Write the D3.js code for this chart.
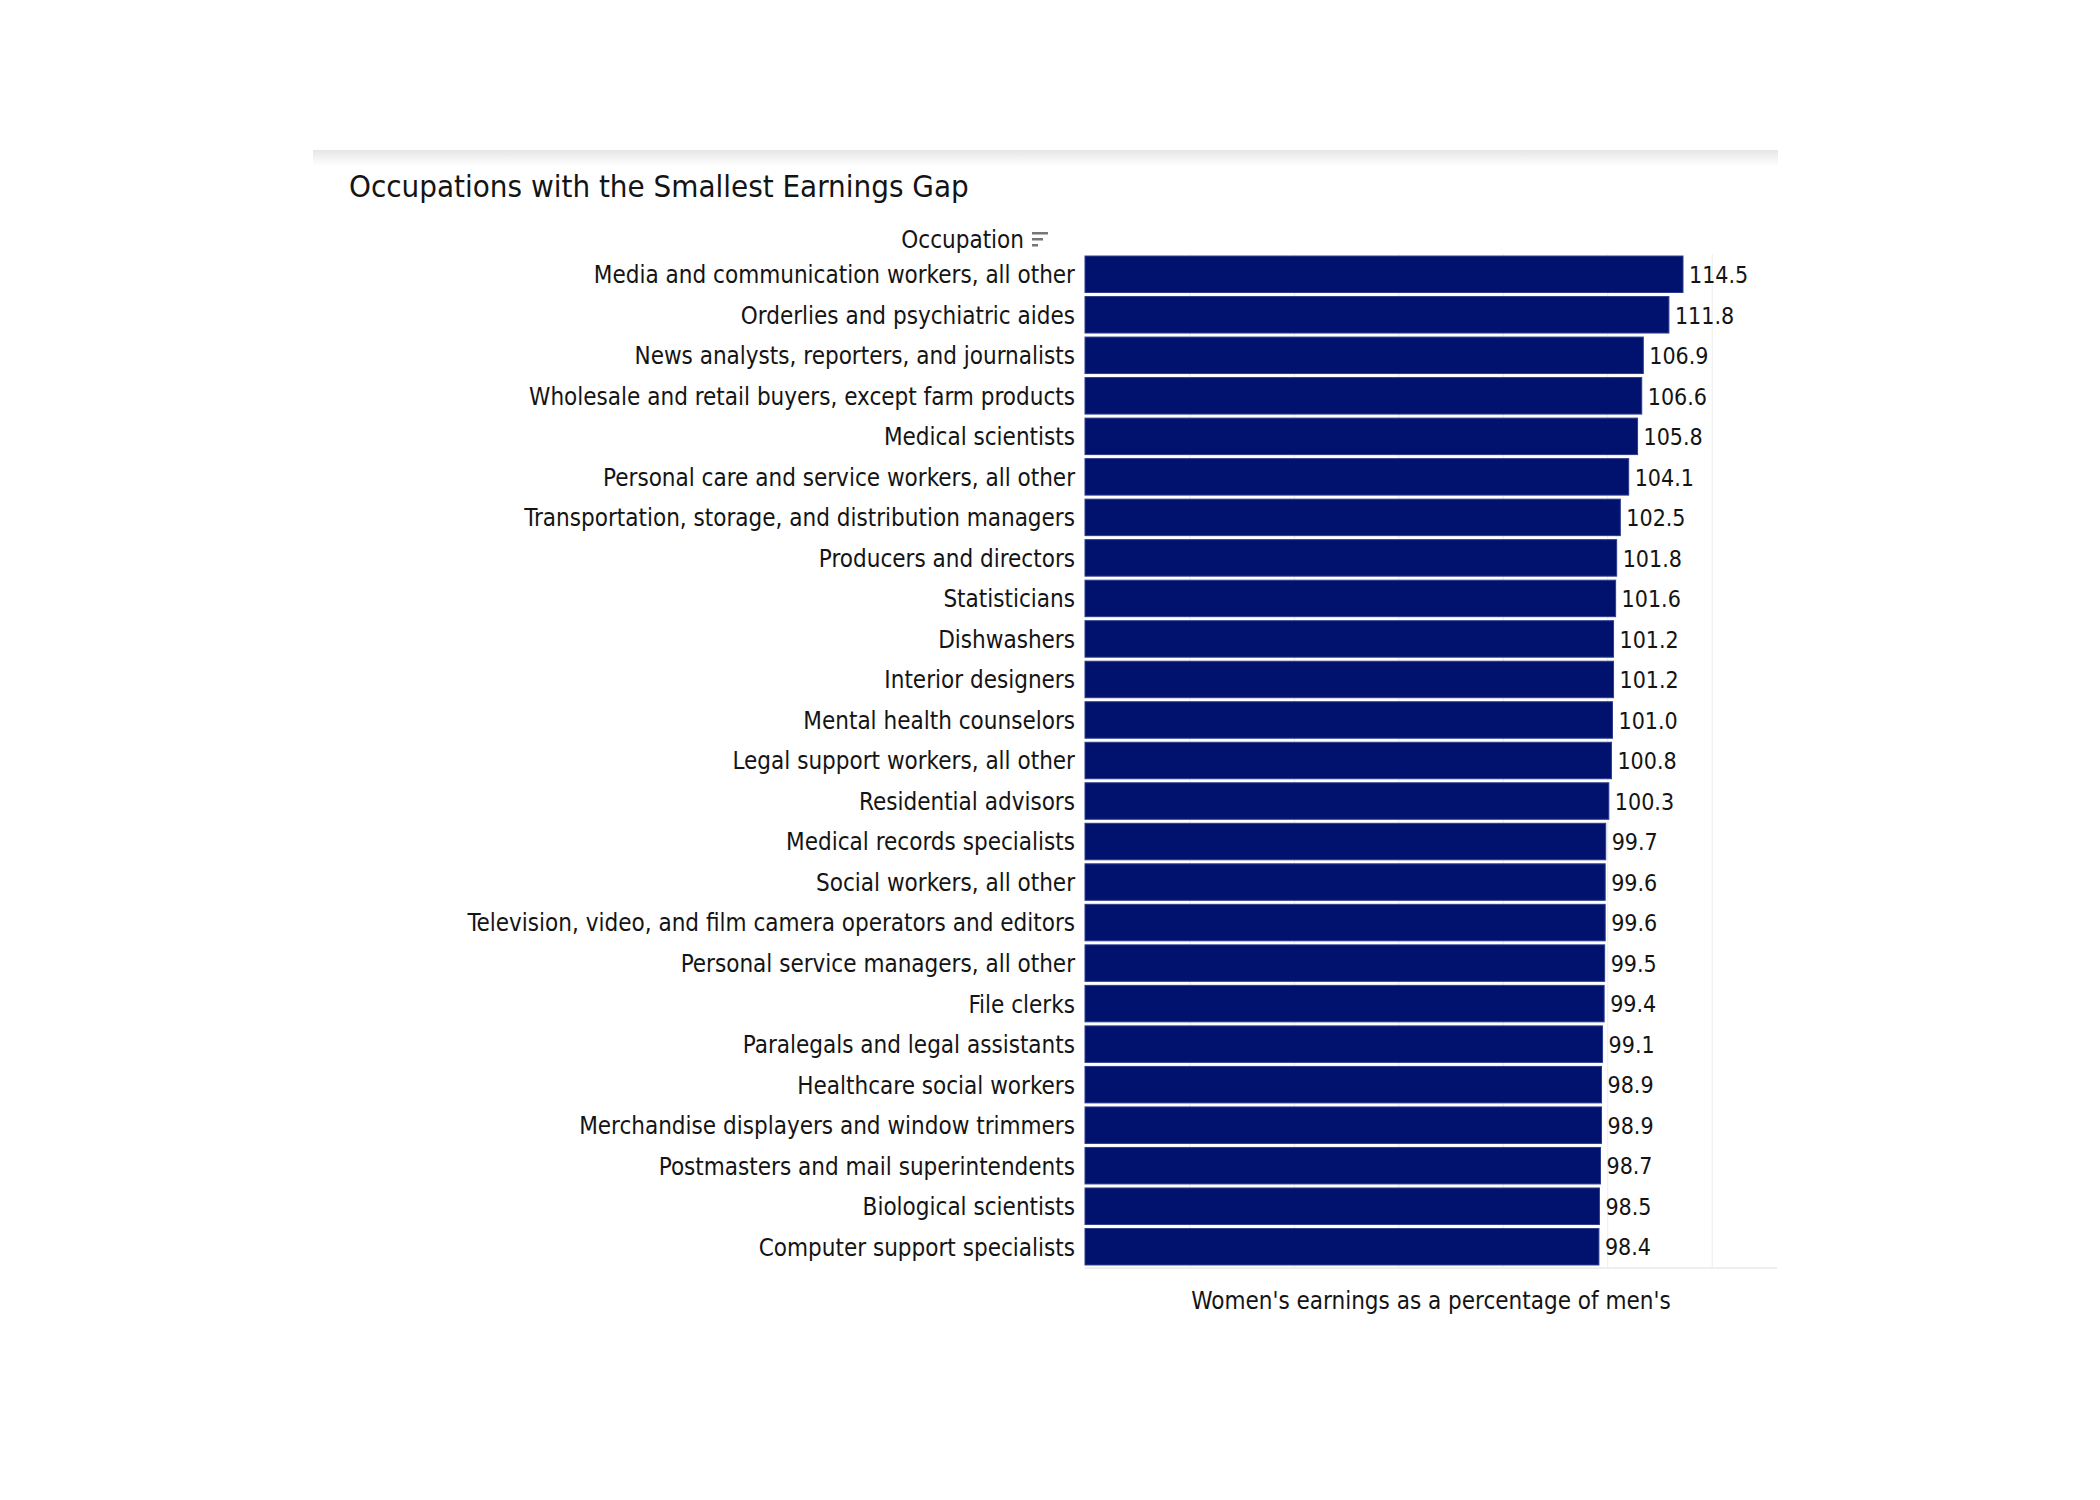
<!DOCTYPE html>
<html>
<head>
<meta charset="utf-8">
<script src="https://cdn.jsdelivr.net/npm/d3@7"></script>
<style>
  body { margin: 0; background: #fff; }
  svg text { font-family: "DejaVu Sans Condensed", "DejaVu Sans", sans-serif; fill: #141414; }
</style>
</head>
<body>
<svg width="2100" height="1500"></svg>
<script>
// categories, top to bottom
const occupations = [
  "Media and communication workers, all other",
  "Orderlies and psychiatric aides",
  "News analysts, reporters, and journalists",
  "Wholesale and retail buyers, except farm products",
  "Medical scientists",
  "Personal care and service workers, all other",
  "Transportation, storage, and distribution managers",
  "Producers and directors",
  "Statisticians",
  "Dishwashers",
  "Interior designers",
  "Mental health counselors",
  "Legal support workers, all other",
  "Residential advisors",
  "Medical records specialists",
  "Social workers, all other",
  "Television, video, and film camera operators and editors",
  "Personal service managers, all other",
  "File clerks",
  "Paralegals and legal assistants",
  "Healthcare social workers",
  "Merchandise displayers and window trimmers",
  "Postmasters and mail superintendents",
  "Biological scientists",
  "Computer support specialists"
];

// women's earnings as % of men's
const earningsPct = [
  114.5, 111.8, 106.9, 106.6, 105.8, 104.1, 102.5, 101.8, 101.6, 101.2,
  101.2, 101.0, 100.8, 100.3, 99.7, 99.6, 99.6, 99.5, 99.4, 99.1,
  98.9, 98.9, 98.7, 98.5, 98.4
];

const gridTicks = [20, 40, 60, 80, 100, 120];

const chartTitle = "Occupations with the Smallest Earnings Gap";
const rowHeader = "Occupation";
const xTitle = "Women's earnings as a percentage of men's";

const rows = occupations.map((name, i) => ({ name: name, value: earningsPct[i] }));

const svg = d3.select("svg");

const plotLeft = 1085, plotRight = 1777, plotTop = 254, plotBottom = 1267;

const x = d3.scaleLinear().domain([0, 132.5]).range([plotLeft, plotRight]);
const y = d3.scaleBand().domain(occupations).range([plotTop, plotBottom])
  .paddingInner(0.1).paddingOuter(0.05);

// soft top border of the card
const grad = svg.append("defs").append("linearGradient")
  .attr("id", "shadow").attr("x1", 0).attr("x2", 0).attr("y1", 0).attr("y2", 1);
grad.append("stop").attr("offset", "0%").attr("stop-color", "#e6e6e6");
grad.append("stop").attr("offset", "100%").attr("stop-color", "#ffffff");
svg.append("rect")
  .attr("x", 313).attr("y", 150).attr("width", 1778 - 313).attr("height", 16)
  .attr("fill", "url(#shadow)");

// title
svg.append("text")
  .attr("x", 349).attr("y", 197)
  .style("font-size", "31px")
  .text(chartTitle);

// vertical gridlines (no tick labels)
svg.append("g")
  .attr("transform", `translate(0,${plotBottom})`)
  .call(d3.axisBottom(x).tickValues(gridTicks).tickSize(-(plotBottom - plotTop)).tickFormat(""))
  .call(g => g.select(".domain").remove())
  .call(g => g.selectAll(".tick line").attr("stroke", "#ededed"));

// bottom line of the plot
svg.append("line")
  .attr("x1", plotLeft).attr("x2", plotRight).attr("y1", plotBottom + 1).attr("y2", plotBottom + 1)
  .attr("stroke", "#eeeeee").attr("stroke-width", 2);

// bars
svg.append("g").selectAll("rect")
  .data(rows)
  .join("rect")
  .attr("x", x(0))
  .attr("y", d => y(d.name))
  .attr("width", d => x(d.value) - x(0))
  .attr("height", y.bandwidth())
  .attr("fill", "#00126e")
  .attr("stroke", "#2c3b8c")
  .attr("stroke-width", 1);

// value labels
svg.append("g").selectAll("text")
  .data(rows)
  .join("text")
  .attr("x", d => x(d.value) + 6)
  .attr("y", d => y(d.name) + y.bandwidth() / 2)
  .attr("dy", "0.38em")
  .style("font-size", "23px")
  .text(d => d.value.toFixed(1));

// category labels
svg.append("g")
  .attr("transform", `translate(${plotLeft},0)`)
  .call(d3.axisLeft(y).tickSize(0).tickPadding(10))
  .call(g => g.select(".domain").remove())
  .call(g => g.selectAll("text")
    .style("font-size", "24px")
    .attr("font-family", null)
    .attr("fill", "#141414")
    .attr("dy", "0.37em"));

// row header with sort icon
svg.append("text")
  .attr("x", 1024).attr("y", 248)
  .attr("text-anchor", "end")
  .style("font-size", "24px")
  .text(rowHeader);

const icon = svg.append("g").attr("fill", "#777");
[[1032, 232, 16], [1032, 238, 11], [1032, 244, 6]].forEach(r => {
  icon.append("rect").attr("x", r[0]).attr("y", r[1]).attr("width", r[2]).attr("height", 2.5);
});

// x axis title
svg.append("text")
  .attr("x", (plotLeft + plotRight) / 2).attr("y", 1309)
  .attr("text-anchor", "middle")
  .style("font-size", "24px")
  .text(xTitle);
</script>
</body>
</html>
